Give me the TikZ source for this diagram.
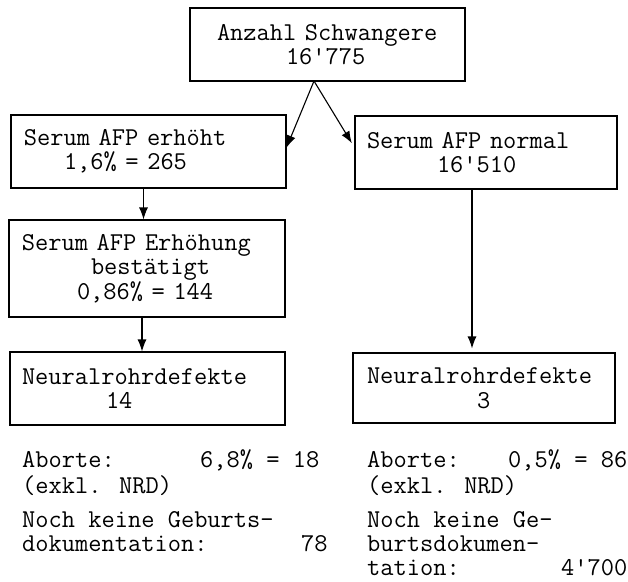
\documentclass[tikz,border=0pt]{standalone}
\usetikzlibrary{arrows.meta}
\begin{document}
\begin{tikzpicture}[x=1pt,y=-1pt,
  every node/.style={font=\ttfamily\fontsize{25.7}{24.5}\selectfont},
  box/.style={draw, line width=1.1pt, inner xsep=0pt, inner ysep=0pt, align=left},
  txt/.style={inner sep=0pt, anchor=base west},
  txtr/.style={inner sep=0pt, anchor=base east},
  arr/.style={line width=1.1pt, -{Latex[length=12pt,width=9pt]}}]
\path[use as bounding box] (0,0) rectangle (628,581);

% boxes
\node[box, text width=275pt, minimum height=73pt] (top) at (327.5,44.5)
  {\hspace*{27pt}Anzahl Schwangere\\\hspace*{96pt}16\textquotesingle775};
\node[box, text width=275pt, minimum height=73pt] (L1) at (148.5,151.5)
  {\hspace*{13pt}Serum AFP erhöht\\\hspace*{53pt}1,6\% = 265};
\node[box, text width=276pt, minimum height=97pt] (L2) at (147,268.5)
  {\hspace*{13pt}Serum AFP Erhöhung\\\hspace*{82pt}bestätigt\\\hspace*{68pt}0,86\% = 144};
\node[box, text width=275pt, minimum height=73pt] (L3) at (147.5,388.5)
  {\hspace*{12pt}Neuralrohrdefekte\\\hspace*{96pt}14};
\node[box, text width=262pt, minimum height=73pt] (R1) at (486,152.5)
  {\hspace*{12pt}Serum AFP normal\\\hspace*{82pt}16\textquotesingle510};
\node[box, text width=262pt, minimum height=70pt] (R3) at (484,388)
  {\hspace*{14pt}Neuralrohrdefekte\\\hspace*{124pt}3};

% connectors
\coordinate (apex) at (314,81);
\draw[arr] (apex) -- ([yshift=4pt]L1.east);
\draw[arr, shorten >=5pt] (apex) -- ([yshift=5pt]R1.west);
\draw[arr] ([xshift=-5pt]L1.south) -- ([xshift=-5pt]L1.south |- L2.north);
\draw[arr] ([xshift=-5pt]L2.south) -- ([xshift=-5pt]L2.south |- L3.north);
\draw[arr, shorten >=4pt] ([xshift=-14pt]R1.south) -- ([xshift=-14pt]R1.south |- R3.north);

% notes left
\node[txt] (la1) at (22,467) {Aborte:};
\node[txt] (la2) at (200,467) {6,8\% = 18};
\node[txt] (la3) at (22,493) {(exkl. NRD)};
\node[txt] (lb1) at (22,527) {Noch keine Geburts-};
\node[txt] (lb2) at (22,551) {dokumentation:};
\node[txt] (lb3) at (301,551) {78};

% notes right
\node[txt] (ra1) at (367,467) {Aborte:};
\node[txtr] (ra2) at (627.5,467) {0,5\% = 86};
\node[txt] (ra3) at (367,493) {(exkl. NRD)};
\node[txt] (rb1) at (367,527) {Noch keine Ge-};
\node[txt] (rb2) at (367,551) {burtsdokumen-};
\node[txt] (rb3) at (367,575) {tation:};
\node[txtr] (rb4) at (627.5,575) {4\textquotesingle700};
\end{tikzpicture}
\end{document}
